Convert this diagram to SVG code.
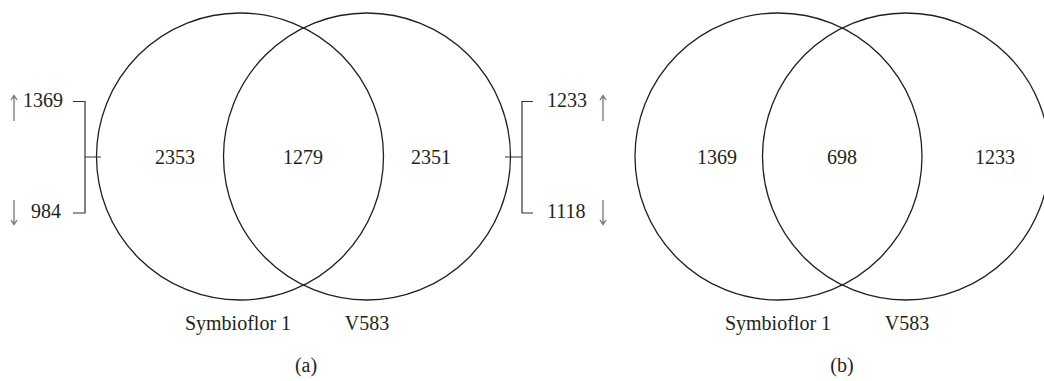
<svg xmlns="http://www.w3.org/2000/svg" width="1044" height="381" viewBox="0 0 1044 381">
<style>
text{font-family:"Liberation Serif","Times New Roman",serif;font-size:20px;fill:#231f20}
.c{fill:none;stroke:#231f20;stroke-width:1.3}
.m{text-anchor:middle}
.e{text-anchor:end}
.br{fill:none;stroke:#333;stroke-width:1.2}
.ar{fill:none;stroke:#777;stroke-width:1.3}
</style>
<rect width="1044" height="381" fill="#fff"/>
<g id="venn-a">
<g id="a-left"><circle class="c" cx="240" cy="156.5" r="143.5"/><text class="m" x="175" y="164">2353</text><text class="m" x="238" y="330">Symbioflor 1</text></g>
<g id="a-right"><circle class="c" cx="367" cy="156.5" r="143.5"/><text class="m" x="431" y="164">2351</text><text class="m" x="367" y="330">V583</text></g>
<text class="m" x="303" y="164">1279</text>
<text class="m" x="306" y="372">(a)</text>
</g>
<g id="brackets">
<path class="br" d="M73,101.5 H85 V213 H73 M85,157 H101"/>
<path class="br" d="M505,157 H522 M533,101.5 H522 V213 H533"/>
<path class="ar" d="M14,121 V96 M11,100 L14,95.5 L17,100"/>
<path class="ar" d="M14,200 V224 M11,220 L14,224.5 L17,220"/>
<path class="ar" d="M603,121 V96 M600,100 L603,95.5 L606,100"/>
<path class="ar" d="M603,200 V224 M600,220 L603,224.5 L606,220"/>
<text class="e" x="63" y="107">1369</text>
<text class="e" x="61" y="218">984</text>
<text x="547" y="107">1233</text>
<text x="547" y="218">1118</text>
</g>
<g id="venn-b">
<g id="b-left"><circle class="c" cx="778.5" cy="156.5" r="143.5"/><text class="m" x="717" y="164">1369</text><text class="m" x="778" y="330">Symbioflor 1</text></g>
<g id="b-right"><circle class="c" cx="906" cy="156.5" r="143.5"/><text class="m" x="995" y="164">1233</text><text class="m" x="907" y="330">V583</text></g>
<text class="m" x="842" y="164">698</text>
<text class="m" x="842" y="372">(b)</text>
</g>
</svg>
